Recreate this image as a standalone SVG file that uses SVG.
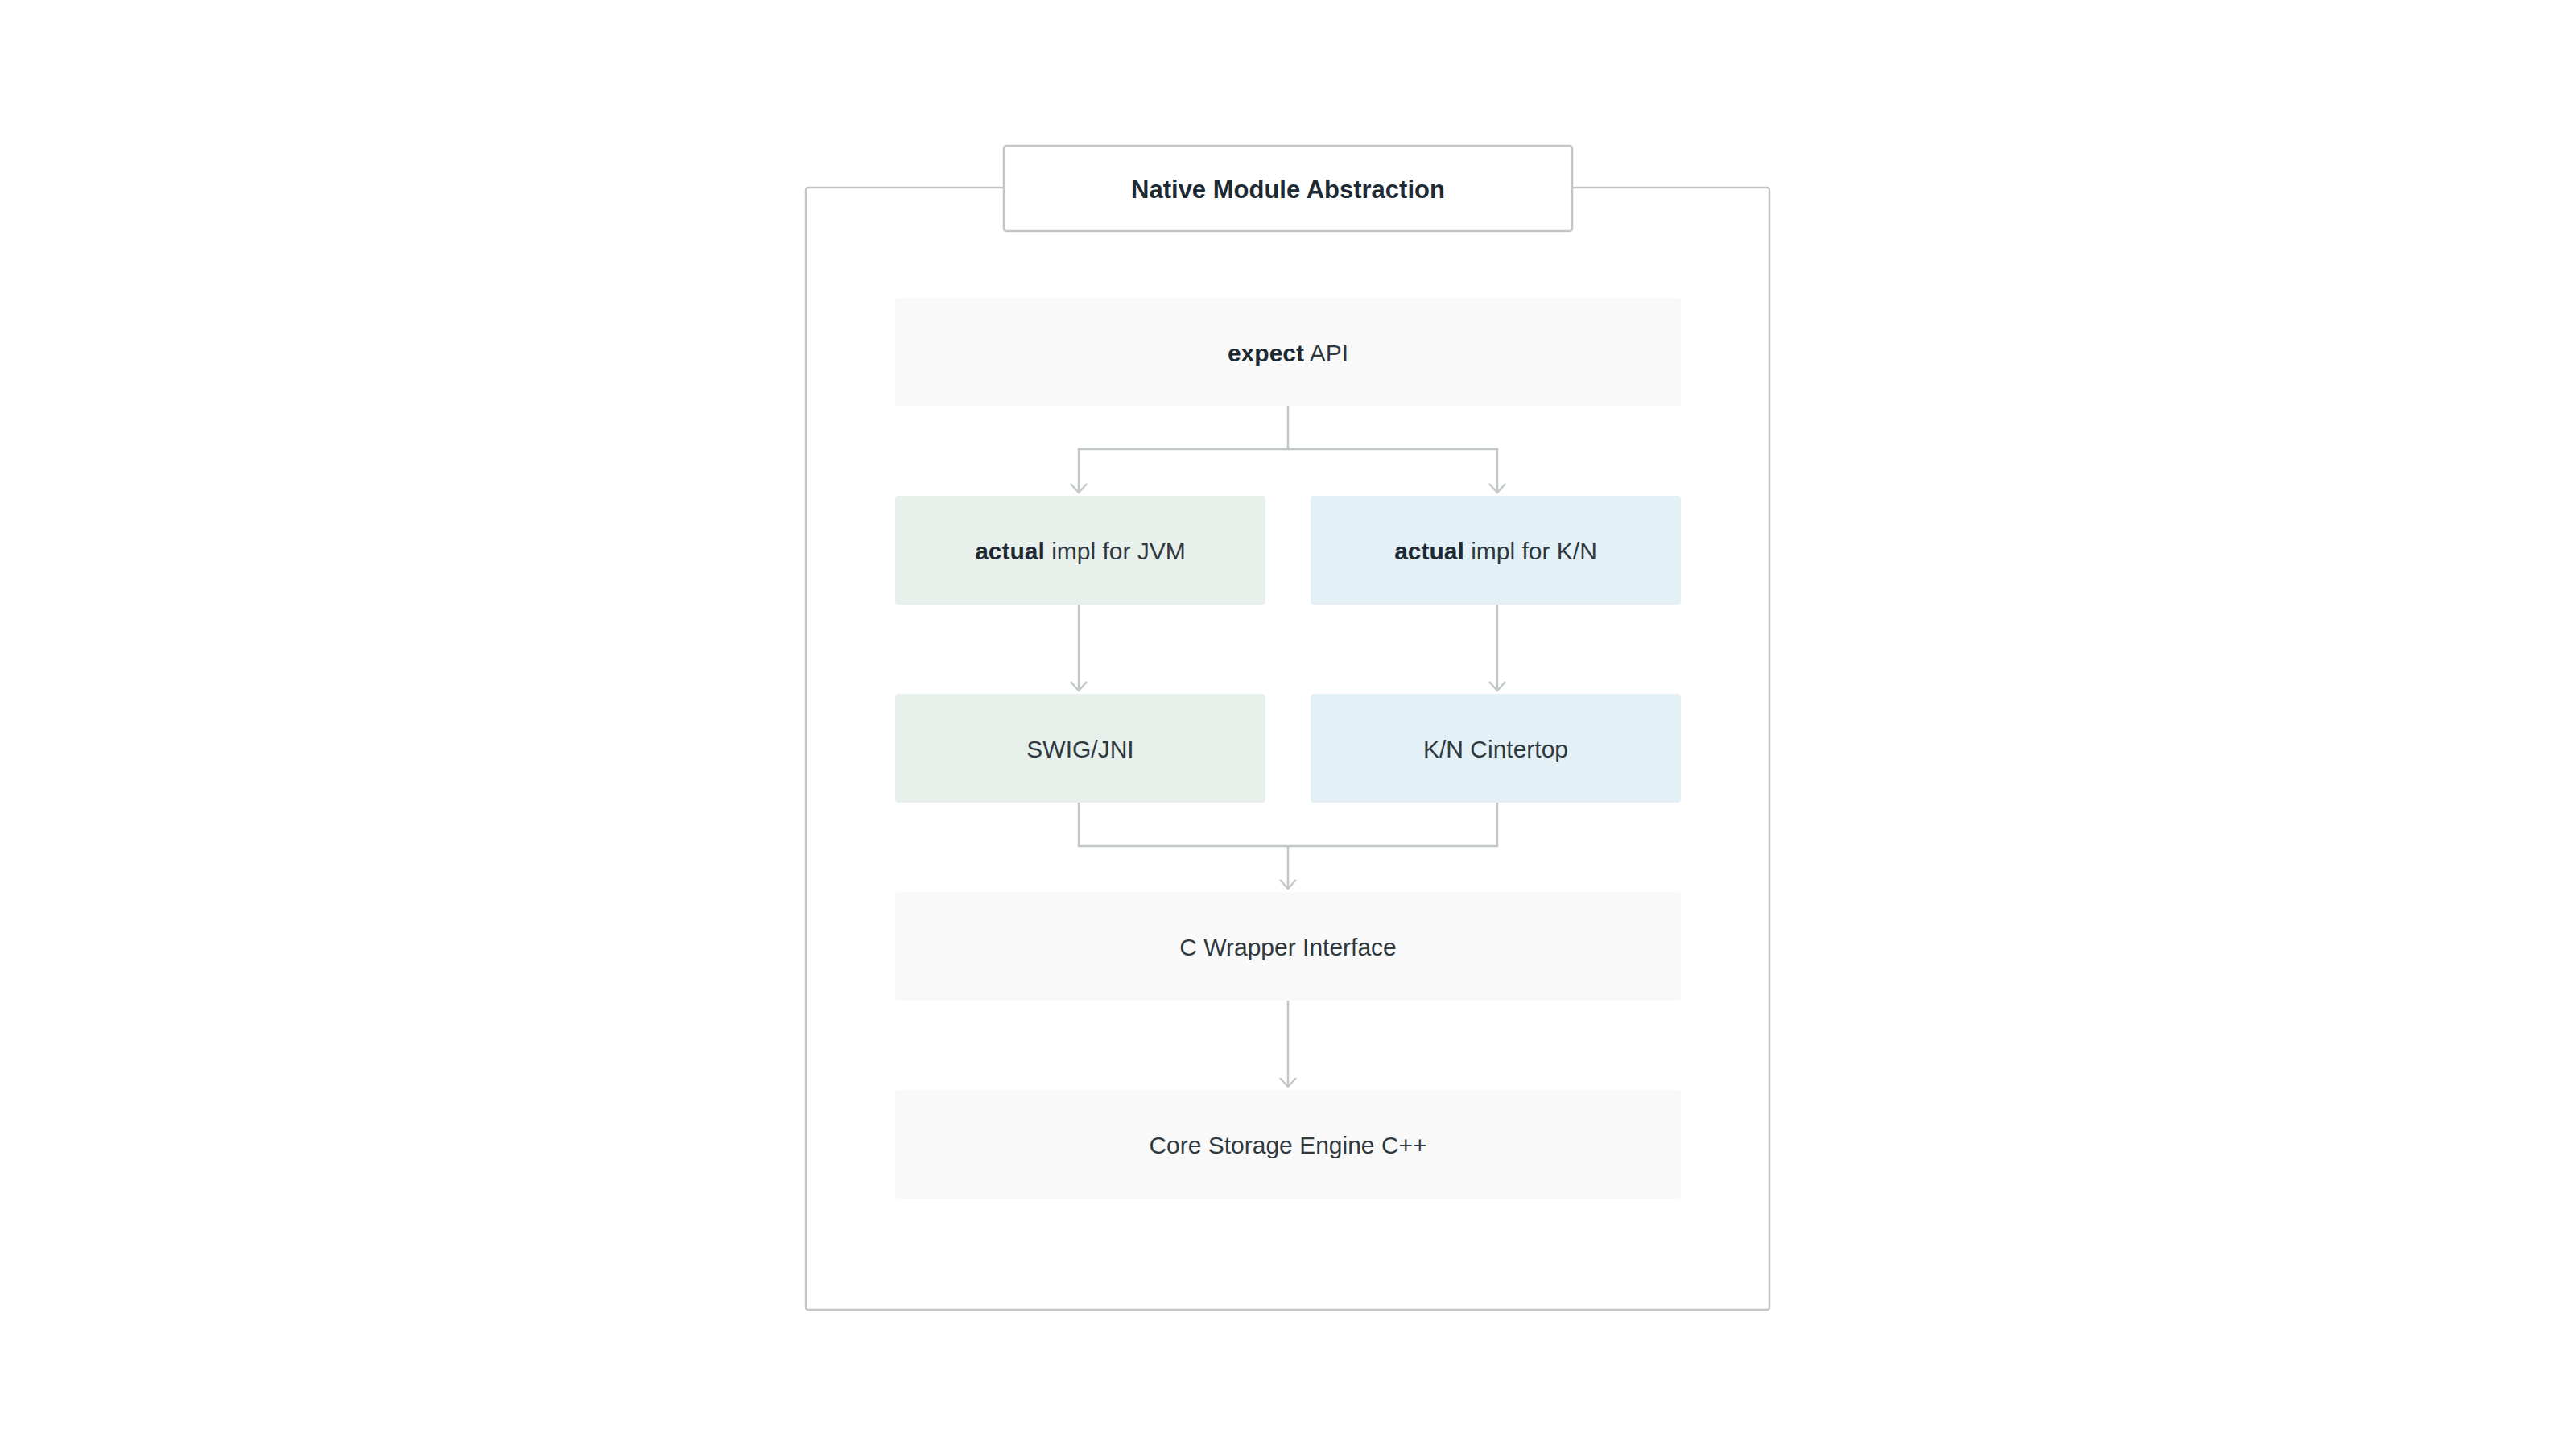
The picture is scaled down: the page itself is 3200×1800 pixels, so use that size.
<svg xmlns="http://www.w3.org/2000/svg" width="3200" height="1800" viewBox="0 0 3200 1800">
<style>
.frame{fill:#ffffff;stroke:#c3c6c6;stroke-width:2.5}
.box{stroke:none}
.neutral{fill:#f9f9f9}
.jvm{fill:#e8f0eb}
.kn{fill:#e3f1f6}
.conn{fill:none;stroke:#c2c7c7;stroke-width:2.5}
text{font-family:"Liberation Sans",Arial,sans-serif;font-size:30px;fill:#2f393f;text-anchor:middle}
.b{font-weight:700;fill:#1e2a33}
.title{font-weight:700;fill:#1e2a33;font-size:31px}
</style>
<defs>
<marker id="arrow" markerUnits="userSpaceOnUse" markerWidth="24" markerHeight="24" refX="0" refY="0" orient="auto" overflow="visible">
<path d="M-11,-10 L0,0 L-11,10" fill="none" stroke="#c2c7c7" stroke-width="2.5" stroke-linejoin="miter"/>
</marker>
</defs>
<rect width="3200" height="1800" fill="#ffffff"/>
<g id="outer-frame">
<rect class="frame" x="1001" y="233" width="1197" height="1394" rx="3"/>
</g>
<g id="title">
<rect class="frame" x="1247" y="181" width="706" height="106" rx="3"/>
<text class="title" x="1600" y="246">Native Module Abstraction</text>
</g>
<g id="expect-api">
<rect class="box neutral" x="1112" y="370" width="976" height="134" rx="4"/>
<text x="1600" y="449"><tspan class="b">expect</tspan> API</text>
</g>
<g id="actual-jvm">
<rect class="box jvm" x="1112" y="616" width="460" height="135" rx="4"/>
<text x="1342" y="695"><tspan class="b">actual</tspan> impl for JVM</text>
</g>
<g id="actual-kn">
<rect class="box kn" x="1628" y="616" width="460" height="135" rx="4"/>
<text x="1858" y="695"><tspan class="b">actual</tspan> impl for K/N</text>
</g>
<g id="swig-jni">
<rect class="box jvm" x="1112" y="862" width="460" height="135" rx="4"/>
<text x="1342" y="941">SWIG/JNI</text>
</g>
<g id="kn-cinterop">
<rect class="box kn" x="1628" y="862" width="460" height="135" rx="4"/>
<text x="1858" y="941">K/N Cintertop</text>
</g>
<g id="c-wrapper">
<rect class="box neutral" x="1112" y="1108" width="976" height="135" rx="4"/>
<text x="1600" y="1187">C Wrapper Interface</text>
</g>
<g id="core-engine">
<rect class="box neutral" x="1112" y="1354" width="976" height="135" rx="4"/>
<text x="1600" y="1433">Core Storage Engine C++</text>
</g>
<g id="connectors">
<path class="conn" d="M1600 504 V558 H1340 V612" marker-end="url(#arrow)"/>
<path class="conn" d="M1600 558 H1860 V612" marker-end="url(#arrow)"/>
<path class="conn" d="M1340 751 V858" marker-end="url(#arrow)"/>
<path class="conn" d="M1860 751 V858" marker-end="url(#arrow)"/>
<path class="conn" d="M1340 997 V1051 H1860 V997"/>
<path class="conn" d="M1600 1051 V1104" marker-end="url(#arrow)"/>
<path class="conn" d="M1600 1243 V1350" marker-end="url(#arrow)"/>
</g>
</svg>
